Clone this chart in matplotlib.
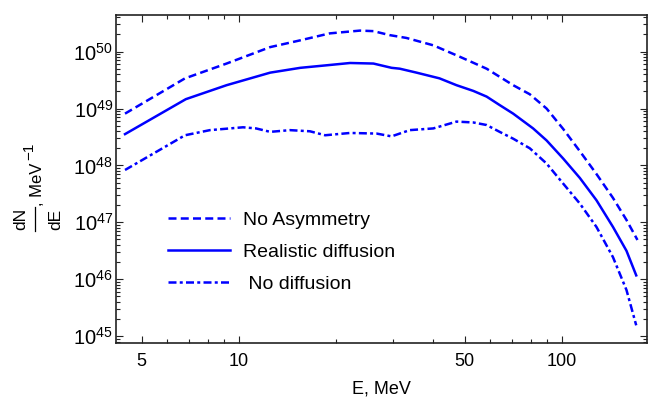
import numpy as np
import matplotlib
matplotlib.use("Agg")
import matplotlib.pyplot as plt
from matplotlib.lines import Line2D
from matplotlib.ticker import LogLocator, FixedLocator, NullFormatter, FuncFormatter

plt.rcParams['font.family'] = ['Liberation Sans', 'DejaVu Sans']
plt.rcParams['mathtext.fontset'] = 'custom'
plt.rcParams['mathtext.rm'] = 'Liberation Sans'
plt.rcParams['mathtext.it'] = 'Liberation Sans:italic'
plt.rcParams['mathtext.default'] = 'regular'

# spectra dN/dE [MeV^-1] vs photon energy E [MeV]
e_no_asym = [4.44, 6.81, 9.16, 12.5, 15.5, 19.1, 23.7, 26.1, 29.3, 33.0, 40.0,
             48.3, 58.5, 70.7, 79.6, 89.7, 101, 113.7, 128, 144, 158.6, 171.5]
dnde_no_asym = [8.13e48, 3.39e49, 6.17e49, 1.20e50, 1.58e50, 2.09e50, 2.34e50,
                2.29e50, 1.95e50, 1.74e50, 1.29e50, 8.13e49, 5.01e49, 2.57e49,
                1.78e49, 1.00e49, 4.37e48, 1.78e48, 7.08e47, 2.69e47, 1.10e47,
                4.90e46]

e_realistic = [4.44, 6.85, 9.16, 12.5, 15.5, 18.7, 22.1, 26.1, 29.7, 31.5, 35.5,
               41.8, 47.2, 53.2, 58.5, 64.2, 70.7, 81.5, 89.7, 101, 113.7, 128,
               144, 158.6, 170]
dnde_realistic = [3.55e48, 1.46e49, 2.57e49, 4.27e49, 5.19e49, 5.75e49, 6.31e49,
                  6.17e49, 5.19e49, 5.01e49, 4.27e49, 3.39e49, 2.57e49, 2.04e49,
                  1.62e49, 1.15e49, 8.13e48, 4.47e48, 2.75e48, 1.32e48, 6.03e47,
                  2.45e47, 8.32e46, 3.16e46, 1.17e46]

e_no_diff = [4.44, 6.81, 8.13, 10.3, 11.3, 12.5, 14.4, 16.6, 18.5, 22.1, 26.7,
             29.7, 33.8, 40.0, 47.2, 53.2, 58.5, 64.2, 70.7, 79.6, 89.7, 101,
             113.7, 128, 144, 158.6, 170]
dnde_no_diff = [8.32e47, 3.39e48, 4.17e48, 4.68e48, 4.47e48, 3.89e48, 4.17e48,
                3.98e48, 3.39e48, 3.72e48, 3.63e48, 3.24e48, 4.17e48, 4.47e48,
                5.89e48, 5.69e48, 5.13e48, 3.89e48, 2.95e48, 2.00e48, 1.08e48,
                4.79e47, 2.14e47, 8.32e46, 2.45e46, 6.46e45, 1.55e45]

x_major = [5, 10, 50, 100]
x_minor = [6, 7, 8, 9, 20, 30, 40, 60, 70, 80, 90]

W, H = 651, 399
fig = plt.figure(figsize=(W / 100, H / 100), dpi=100)
ax = fig.add_axes([0.178, 0.140, 0.816, 0.822])

col = '#0000ff'
lw = 1.8
ax.plot(e_no_asym, dnde_no_asym, color=col, lw=lw, ls=(0, (3.2, 1.7)),
        label='No Asymmetry')
ax.plot(e_realistic, dnde_realistic, color=col, lw=lw, ls='-',
        label='Realistic diffusion')
ax.plot(e_no_diff, dnde_no_diff, color=col, lw=lw, ls=(0, (3.2, 1.3, 1.2, 1.3)),
        label=' No diffusion')

ax.set_xscale('log')
ax.set_yscale('log')
ax.set_xlim(4.16, 183.7)
ax.set_ylim(7.54e44, 4.37e50)

ax.xaxis.set_major_locator(FixedLocator(x_major))
ax.xaxis.set_major_formatter(FuncFormatter(lambda v, p: '%d' % v))
ax.xaxis.set_minor_locator(FixedLocator(x_minor))
ax.xaxis.set_minor_formatter(NullFormatter())

ax.yaxis.set_major_locator(LogLocator(base=10, numticks=20))
ax.yaxis.set_minor_locator(LogLocator(base=10, subs=np.arange(2, 10), numticks=20))
ax.yaxis.set_minor_formatter(NullFormatter())
ax.yaxis.set_major_formatter(FuncFormatter(lambda v, p: r'$10^{%d}$' % round(np.log10(v))))

ax.tick_params(which='both', direction='in', top=True, right=True,
               colors='#222222', labelcolor='black', width=0.8)
ax.tick_params(which='major', length=5)
ax.tick_params(axis='y', which='major', pad=2, labelsize=14.5)
ax.tick_params(axis='x', which='major', pad=7, labelsize=13)
ax.tick_params(which='minor', length=3)

for s in ax.spines.values():
    s.set_color('#222222')
    s.set_linewidth(1.2)

ax.set_xlabel('E, MeV', fontsize=13)
ax.xaxis.set_label_coords(0.5, -0.115)

# y label: dN/dE as a stacked fraction, then ", MeV" with a raised "-1"
def fx(px):
    return px / W

def fy(py):
    return 1 - py / H

lab = dict(rotation=90, rotation_mode='anchor')
fig.text(fx(21), fy(219), 'dN', ha='center', va='center', fontsize=12.5, **lab)
fig.text(fx(56), fy(219), 'dE', ha='center', va='center', fontsize=12.5, **lab)
fig.add_artist(Line2D([fx(35), fx(35)], [fy(207), fy(231)], color='black',
                      lw=0.9, transform=fig.transFigure))
fig.text(fx(42), fy(206), ', MeV', ha='left', va='baseline', fontsize=12, **lab)
fig.text(fx(33), fy(160), '\u22121', ha='left', va='baseline', fontsize=11, **lab)

ax.legend(loc='center left', bbox_to_anchor=(0.258, 0.368),
          bbox_transform=fig.transFigure, frameon=False, fontsize=14,
          handlelength=3.2, handletextpad=0.67, labelspacing=0.75,
          borderpad=0, borderaxespad=0)

fig.savefig('out.png', dpi=100)
